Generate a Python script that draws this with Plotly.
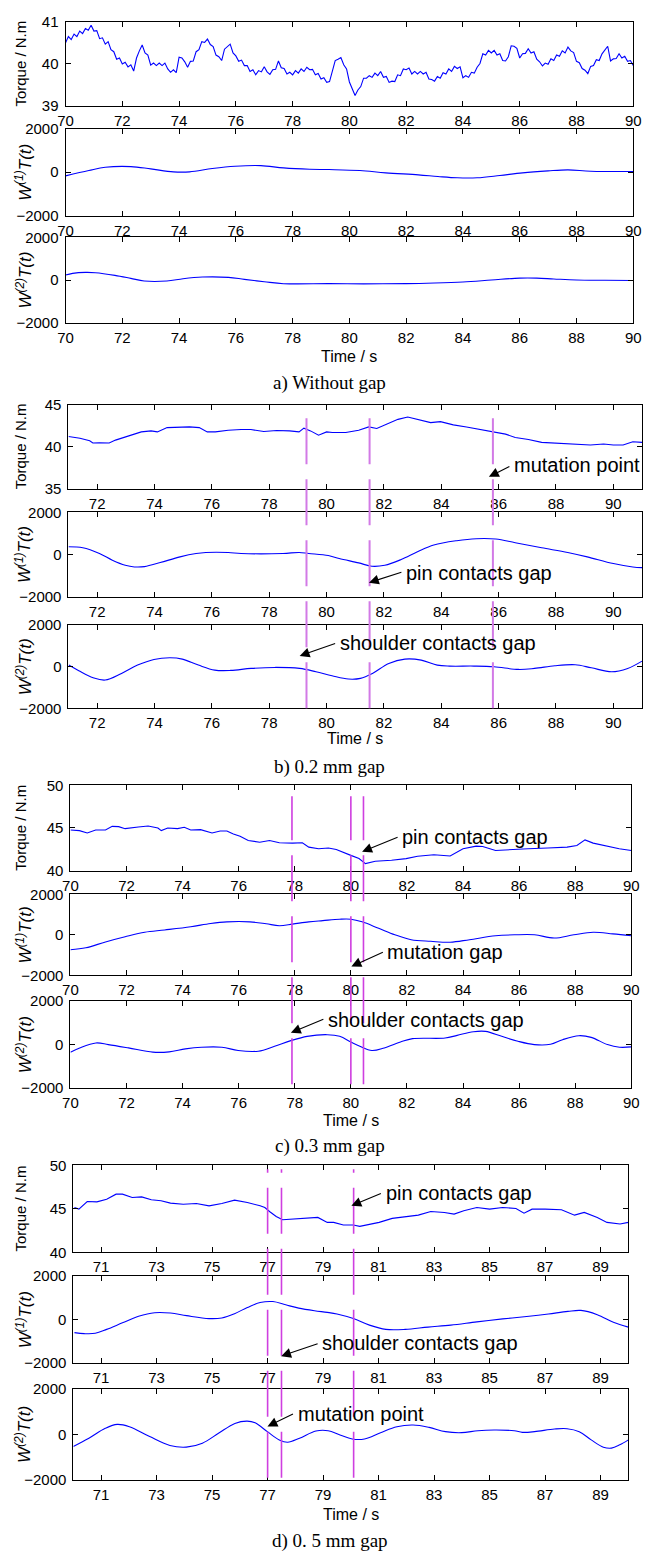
import plotly.graph_objects as go

W, H = 651, 1561

# ---------------- data ----------------
# Panel a (without gap): torque sampled every 0.1 s from 70 s
aT_start, aT_step = 70.0, 0.1
aT_v = [40.50, 40.65, 40.58, 40.71, 40.65, 40.78, 40.72, 40.84, 40.80, 40.92,
        40.78, 40.79, 40.60, 40.62, 40.47, 40.53, 40.34, 40.29, 40.11, 40.14,
        40.00, 40.04, 39.93, 39.98, 39.83, 40.14, 40.31, 40.45, 40.26, 40.21,
        39.97, 40.02, 39.96, 40.02, 39.96, 40.02, 39.88, 39.80, 39.86, 39.79,
        40.16, 40.14, 40.05, 39.92, 40.06, 40.07, 40.29, 40.34, 40.53, 40.51,
        40.59, 40.46, 40.41, 40.21, 40.17, 40.08, 40.35, 40.42, 40.47, 40.26,
        40.19, 40.06, 40.09, 39.96, 39.96, 39.82, 39.86, 39.74, 39.84, 39.81,
        39.93, 39.81, 39.75, 39.86, 39.87, 40.07, 39.91, 39.89, 39.76, 39.80,
        39.74, 39.84, 39.78, 39.88, 39.82, 39.92, 39.86, 39.87, 39.74, 39.77,
        39.64, 39.67, 39.56, 39.58, 39.83, 40.08, 40.11, 40.15, 39.98, 39.88,
        39.57, 39.41, 39.25, 39.38, 39.46, 39.66, 39.66, 39.72, 39.68, 39.78,
        39.72, 39.82, 39.68, 39.70, 39.56, 39.59, 39.58, 39.74, 39.72, 39.88,
        39.86, 39.90, 39.76, 39.82, 39.76, 39.82, 39.76, 39.80, 39.64, 39.63,
        39.59, 39.70, 39.66, 39.79, 39.76, 39.88, 39.82, 39.94, 39.89, 39.93,
        39.67, 39.72, 39.68, 39.80, 39.78, 39.92, 40.01, 40.24, 40.21, 40.32,
        40.26, 40.32, 40.21, 40.24, 40.08, 40.07, 40.17, 40.43, 40.42, 40.37,
        40.14, 40.24, 40.25, 40.36, 40.26, 40.29, 40.11, 40.05, 39.95, 40.02,
        39.99, 40.12, 40.08, 40.21, 40.18, 40.31, 40.26, 40.40, 40.31, 40.27,
        40.06, 40.03, 39.89, 39.85, 39.77, 39.94, 39.96, 40.10, 40.08, 40.24,
        40.32, 40.42, 40.07, 40.12, 40.13, 40.24, 40.14, 40.18, 40.06, 40.08,
        39.96]
aT_t = [round(aT_start + aT_step * i, 2) for i in range(len(aT_v))]

aW1_t = [70, 70.82, 71.4, 72.3, 73.0, 73.8, 74.37, 75.17, 75.97, 76.88, 77.68, 78.6,
         79.28, 80.37, 81.28, 82.43, 83.12, 83.8, 84.5, 85.3, 86.1, 87.0, 87.7, 88.5, 90]
aW1_v = [-170, 76, 227, 258, 152, 15, 15, 167, 273, 303, 197, 136,
         121, 76, -30, -121, -197, -258, -258, -152, -30, 60, 106, 45, 30]

aW2_t = [70, 70.25, 70.7, 71.05, 71.74, 72.3, 72.77, 73.57, 74.14, 74.82, 75.74, 76.3,
         77.0, 77.68, 79.28, 80.5, 82.0, 83.0, 84.0, 85.0, 86.0, 86.6, 87.2, 88.0, 89.0, 90.0]
aW2_v = [234, 313, 359, 344, 219, 78, -47, -47, 63, 141, 125, 31,
         -78, -172, -172, -180, -170, -140, -90, 0, 90, 90, 50, 0, -10, -20]

# Panel b (0.2 mm gap)
bT_t = [71.0, 71.4, 71.74, 71.85, 72.08, 72.42, 72.64, 72.98, 73.2, 73.54, 73.88, 74.1,
        74.44, 74.89, 75.22, 75.56, 75.84, 76.12, 76.57, 77.02, 77.36, 77.81, 78.26, 78.71,
        79.04, 79.21, 79.44, 79.72, 80.0, 80.2, 80.67, 81.12, 81.47, 81.75, 82.03, 82.49,
        82.83, 83.17, 83.63, 83.97, 84.42, 84.88, 85.33, 85.75, 86.24, 86.58, 87.04, 87.5,
        87.95, 88.63, 89.2, 89.66, 90.0, 90.34, 90.68, 91.0]
bT_v = [41.22, 41.0, 40.7, 40.43, 40.47, 40.43, 40.78, 41.18, 41.41, 41.76, 41.88, 41.76,
        42.27, 42.35, 42.35, 42.27, 41.76, 41.76, 41.96, 42.04, 42.04, 41.8, 41.92, 41.88,
        41.76, 42.2, 41.88, 41.37, 41.76, 41.69, 41.69, 41.96, 42.35, 42.16, 42.59, 43.25,
        43.53, 43.25, 42.86, 42.98, 42.59, 42.35, 42.08, 41.8, 41.49, 41.1, 40.86, 40.51,
        40.43, 40.31, 40.2, 40.31, 40.2, 40.2, 40.59, 40.51]

bW1_t = [71.0, 71.5, 72.08, 72.53, 72.98, 73.3, 73.65, 74.2, 74.89, 75.45, 75.79, 76.57,
         77.02, 78.48, 79.04, 79.38, 80.06, 80.44, 81.12, 81.58, 82.03, 82.6, 83.17, 83.74,
         84.54, 85.22, 85.9, 86.58, 87.5, 88.41, 89.09, 90.0, 90.68, 91.0]
bW1_v = [368, 320, 48, -272, -512, -592, -576, -384, -112, 48, 96, 96,
         48, 48, 96, 48, -48, -192, -400, -560, -512, -240, 128, 448,
         656, 752, 736, 560, 320, 96, -112, -432, -592, -624]

bW2_t = [71.01, 71.36, 71.86, 72.28, 72.85, 73.41, 73.98, 74.54, 74.97, 75.53, 76.1, 76.66,
         77.37, 78.2, 79.06, 79.63, 80.19, 80.76, 81.18, 81.6, 82.17, 82.73, 83.3, 83.86,
         84.29, 85.14, 85.84, 86.69, 87.25, 87.96, 88.67, 89.23, 89.94, 90.5, 91.0]
bW2_v = [80, -192, -528, -640, -320, 80, 352, 432, 368, 80, -160, -176,
         -80, -32, -80, -240, -432, -592, -560, -320, 160, 368, 320, 80,
         32, 32, 0, -128, -80, 48, 96, -48, -240, -80, 272]

# Panel c (0.3 mm gap)
cT_t = [70, 70.32, 70.6, 70.9, 71.25, 71.49, 71.72, 71.95, 72.42, 72.77, 73.12, 73.24,
        73.47, 73.82, 74.06, 74.29, 74.64, 75.05, 75.34, 75.58, 75.81, 76.05, 76.34, 76.75,
        77.1, 77.45, 77.92, 78.27, 78.5, 78.85, 79.2, 79.48, 80.0, 80.29, 80.52, 80.87,
        81.45, 81.97, 82.38, 82.96, 83.54, 84.0, 84.47, 84.7, 85.16, 85.74, 86.32, 87.02,
        87.71, 88.06, 88.35, 88.64, 89.1, 89.57, 90.0]
cT_v = [44.77, 44.69, 44.42, 44.77, 44.77, 45.19, 45.16, 44.92, 45.12, 45.23, 45.0, 44.69,
        45.0, 44.92, 45.08, 44.77, 44.81, 44.42, 44.65, 44.65, 44.3, 44.03, 43.53, 43.33,
        43.53, 43.26, 43.22, 43.26, 42.75, 42.56, 42.64, 42.48, 41.78, 41.4, 40.81, 41.09,
        41.2, 41.4, 41.67, 41.86, 41.71, 42.56, 42.87, 42.83, 42.36, 42.48, 42.56, 42.64,
        42.75, 42.95, 43.6, 43.22, 42.87, 42.56, 42.36]

cW1_t = [70, 70.55, 71.25, 71.95, 72.65, 73.36, 74.29, 75.0, 75.58, 76.4, 76.98, 77.45,
         77.92, 78.5, 79.0, 79.6, 80.0, 80.4, 80.99, 81.57, 82.15, 82.85, 83.54, 84.23,
         85.16, 85.86, 86.55, 87.25, 87.95, 88.64, 89.34, 90.0]
cW1_v = [-736, -640, -352, -96, 128, 240, 400, 560, 640, 640, 544, 448,
         528, 640, 700, 768, 768, 640, 320, 0, -240, -320, -368, -240,
         -48, 0, 0, -160, 0, 128, 48, -48]

cW2_t = [70, 70.33, 70.91, 71.35, 72.07, 72.94, 73.52, 74.1, 74.67, 75.4, 75.98, 76.7,
         77.28, 77.86, 78.44, 79.16, 79.6, 80.0, 80.32, 80.75, 81.19, 81.77, 82.2, 83.36,
         83.79, 84.37, 84.8, 85.38, 85.96, 86.54, 87.12, 87.55, 88.13, 88.57, 89.15, 89.58, 90.0]
cW2_v = [-348, -152, 76, 0, -152, -348, -333, -197, -121, -121, -273, -303,
         -76, 182, 379, 455, 379, 121, -76, -273, -152, 121, 273, 303,
         424, 591, 606, 379, 152, 0, 15, 227, 409, 333, 0, -121, -106]

# Panel d (0.5 mm gap)
dT_t = [70.04, 70.2, 70.5, 70.85, 71.2, 71.54, 71.77, 72.12, 72.46, 72.81, 73.16, 73.5,
        73.96, 74.43, 74.89, 75.35, 75.81, 76.27, 76.73, 76.9, 77.08, 77.31, 77.54, 77.89,
        78.46, 78.81, 79.15, 79.38, 79.73, 80.09, 80.32, 80.67, 81.02, 81.49, 81.96, 82.43,
        82.88, 83.37, 83.72, 84.07, 84.54, 85.0, 85.47, 85.95, 86.24, 86.53, 87.0, 87.59,
        88.06, 88.41, 88.88, 89.23, 89.7, 90.0]
dT_v = [45.15, 44.96, 45.84, 45.8, 46.1, 46.68, 46.68, 46.3, 46.37, 46.03, 45.92, 45.65,
        45.53, 45.61, 45.34, 45.61, 45.99, 45.73, 45.34, 45.15, 44.66, 44.12, 43.74, 43.82,
        44.01, 44.01, 43.44, 43.44, 43.13, 43.13, 42.98, 43.25, 43.44, 43.9, 44.12, 44.27,
        44.69, 44.58, 44.39, 44.77, 45.15, 44.96, 45.15, 45.04, 44.5, 44.96, 44.96, 44.89,
        44.27, 44.58, 44.01, 43.44, 43.25, 43.44]

dW1_t = [70.04, 70.39, 70.79, 71.2, 71.77, 72.35, 72.93, 73.5, 74.08, 74.89, 75.35, 75.81,
         76.27, 76.73, 77.19, 77.65, 78.12, 78.69, 79.15, 79.5, 80.09, 80.67, 81.26, 81.96,
         82.78, 83.6, 84.54, 85.47, 86.42, 87.12, 87.82, 88.29, 88.88, 89.46, 90.0]
dW1_v = [-602, -647, -632, -451, -150, 150, 316, 301, 180, 45, 75, 271,
         556, 782, 827, 677, 526, 406, 331, 256, 45, -256, -451, -451,
         -346, -256, -105, 30, 150, 256, 376, 421, 226, -120, -346]

dW2_t = [70, 70.56, 71.15, 71.58, 72.02, 72.75, 73.48, 74.07, 74.65, 75.23, 75.82, 76.26,
         76.55, 76.99, 77.42, 77.72, 78.15, 78.74, 79.18, 79.61, 80.05, 80.49, 81.07, 81.66,
         82.24, 82.82, 83.41, 83.99, 84.58, 85.16, 85.89, 86.18, 86.62, 87.34, 87.79, 88.23,
         88.66, 89.1, 89.39, 89.69, 90.0]
dW2_v = [-536, -174, 261, 435, 333, -101, -493, -565, -391, 43, 478, 580,
         507, 116, -246, -348, -174, 145, 159, -29, -203, -203, 72, 333,
         406, 304, 116, 72, 159, 188, 159, 87, 116, 232, 246, 116,
         -246, -565, -609, -464, -246]

# event (mutation) times marked with vertical lines
b_events = [79.3, 81.5, 85.8]
c_events = [77.9, 80.0, 80.45]
d_events = [77.0, 77.5, 80.1]

captions = ["a) Without gap", "b) 0.2 mm gap", "c) 0.3 mm gap", "d) 0. 5 mm gap"]
x_ranges = [[70, 90], [71, 91], [70, 90], [70, 90]]
x_ticks = [list(range(70, 91, 2)), list(range(72, 91, 2)),
           list(range(70, 91, 2)), list(range(71, 90, 2))]
torque_ranges = [[39, 41], [35, 45], [40, 50], [40, 50]]
torque_ticks = [[39, 40, 41], [35, 40, 45], [40, 45, 50], [40, 45, 50]]
w_range = [-2000, 2000]
w_ticks = [-2000, 0, 2000]

# ---------------- layout geometry (pixels) ----------------
panel_x = [(59, 641), (62, 650), (64, 639), (67, 636)]
panel_rows = [[(13, 98), (121, 209), (231, 317)],
              [(400, 485), (509, 594), (623, 707)],
              [(785, 871), (895, 977), (1003, 1091)],
              [(1169, 1257), (1281, 1369), (1395, 1487)]]
time_label_y = [351, 738, 1124, 1522]
caption_y = [378, 766, 1150, 1549]


def px(x):
    return x / W


def py(y):
    return 1 - y / H


series = [
    [(aT_t, aT_v), (aW1_t, aW1_v), (aW2_t, aW2_v)],
    [(bT_t, bT_v), (bW1_t, bW1_v), (bW2_t, bW2_v)],
    [(cT_t, cT_v), (cW1_t, cW1_v), (cW2_t, cW2_v)],
    [(dT_t, dT_v), (dW1_t, dW1_v), (dW2_t, dW2_v)],
]

FONT = "Liberation Sans, Arial, sans-serif"
fig = go.Figure()
layout = {}
annotations = []
shapes = []

ylabels = ["Torque / N.m",
           "<i>W</i><sup><i>(1)</i></sup><i>T(t)</i>",
           "<i>W</i><sup><i>(2)</i></sup><i>T(t)</i>"]

n = 0
for p in range(4):
    xl, xr = panel_x[p]
    for r in range(3):
        n += 1
        top, bot = panel_rows[p][r]
        t, v = series[p][r]
        xa = "x" if n == 1 else f"x{n}"
        ya = "y" if n == 1 else f"y{n}"
        fig.add_trace(go.Scatter(
            x=t, y=v, mode="lines", xaxis=xa, yaxis=ya, showlegend=False,
            line=dict(color="#0000ff", width=1.1, shape="linear" if r == 0 else "spline"),
        ))
        common = dict(showline=True, linecolor="black", linewidth=1, mirror="ticks",
                      ticks="inside", ticklen=5, tickcolor="black", showgrid=False,
                      zeroline=False, tickfont=dict(family=FONT, size=15, color="black"))
        layout["xaxis" if n == 1 else f"xaxis{n}"] = dict(
            domain=[px(xl), px(xr)], range=x_ranges[p], tickvals=x_ticks[p],
            anchor=ya, ticklabelstandoff=1, **common)
        if r == 0:
            yr, yt = torque_ranges[p], torque_ticks[p]
        else:
            yr, yt = w_range, w_ticks
        layout["yaxis" if n == 1 else f"yaxis{n}"] = dict(
            domain=[py(bot), py(top)], range=yr, tickvals=yt,
            anchor=xa, ticklabelstandoff=3, **common)
        # y axis title
        annotations.append(dict(
            text=ylabels[r], textangle=-90, xref="paper", yref="paper",
            x=px(13 if r == 0 else 16), y=py((top + bot) / 2),
            showarrow=False, xanchor="center", yanchor="middle",
            font=dict(family=FONT, size=15 if r == 0 else 17, color="black")))
    # Time label and caption
    annotations.append(dict(text="Time / s", xref="paper", yref="paper",
                            x=px((xl + xr) / 2), y=py(time_label_y[p]), showarrow=False,
                            xanchor="center", yanchor="middle",
                            font=dict(family=FONT, size=16, color="black")))
    annotations.append(dict(text=captions[p], xref="paper", yref="paper",
                            x=px(330), y=py(caption_y[p]), showarrow=False,
                            xanchor="center", yanchor="middle",
                            font=dict(family="Liberation Serif, Times New Roman, serif",
                                      size=19, color="black")))

# vertical dashed marker lines (drawn from bottom upward)
events = [(1, b_events, 707, 413, "#d27ae6", 2.0),
          (2, c_events, 1087, 796, "#cf3fe0", 1.6),
          (3, d_events, 1485, 1173, "#cf3fe0", 1.6)]
for p, ev, ybot, ytop, col, lw in events:
    xa_ref = f"x{p * 3 + 1}"
    for e in ev:
        shapes.append(dict(type="line", xref=xa_ref, yref="paper", x0=e, x1=e,
                           y0=py(ybot), y1=py(ytop),
                           line=dict(color=col, width=lw, dash="46px,15px")))

# text callouts with arrows: (text, text_left_x, text_y, tip_x, tip_y, tail_x, tail_y)
callouts = [
    ("mutation point", 517, 461, 493, 473, 515, 462),
    ("pin contacts gap", 406, 570, 370, 580, 404, 569),
    ("shoulder contacts gap", 338, 641, 299, 654, 336, 641),
    ("pin contacts gap", 402, 837, 363, 852, 400, 837),
    ("mutation gap", 387, 953, 352, 968, 385, 953),
    ("shoulder contacts gap", 326, 1022, 290, 1035, 324, 1021),
    ("pin contacts gap", 385, 1197, 352, 1210, 383, 1197),
    ("shoulder contacts gap", 320, 1349, 280, 1362, 318, 1349),
    ("mutation point", 295, 1420, 266, 1433, 293, 1420),
]
for txt, tx, ty, ax0, ay0, bx, by in callouts:
    annotations.append(dict(text="", xref="paper", yref="paper", x=px(ax0), y=py(ay0),
                            showarrow=True, ax=bx - ax0, ay=by - ay0, axref="pixel",
                            ayref="pixel", arrowhead=2, arrowsize=1.8, arrowwidth=1.1,
                            arrowcolor="black", standoff=0))
    annotations.append(dict(text=txt, xref="paper", yref="paper", x=px(tx), y=py(ty),
                            showarrow=False, xanchor="left", yanchor="middle",
                            font=dict(family=FONT, size=20, color="black")))

fig.update_layout(
    width=W, height=H, margin=dict(l=0, r=0, t=0, b=0),
    paper_bgcolor="white", plot_bgcolor="white",
    annotations=annotations, shapes=shapes, **layout)

fig.write_html("out.html")
